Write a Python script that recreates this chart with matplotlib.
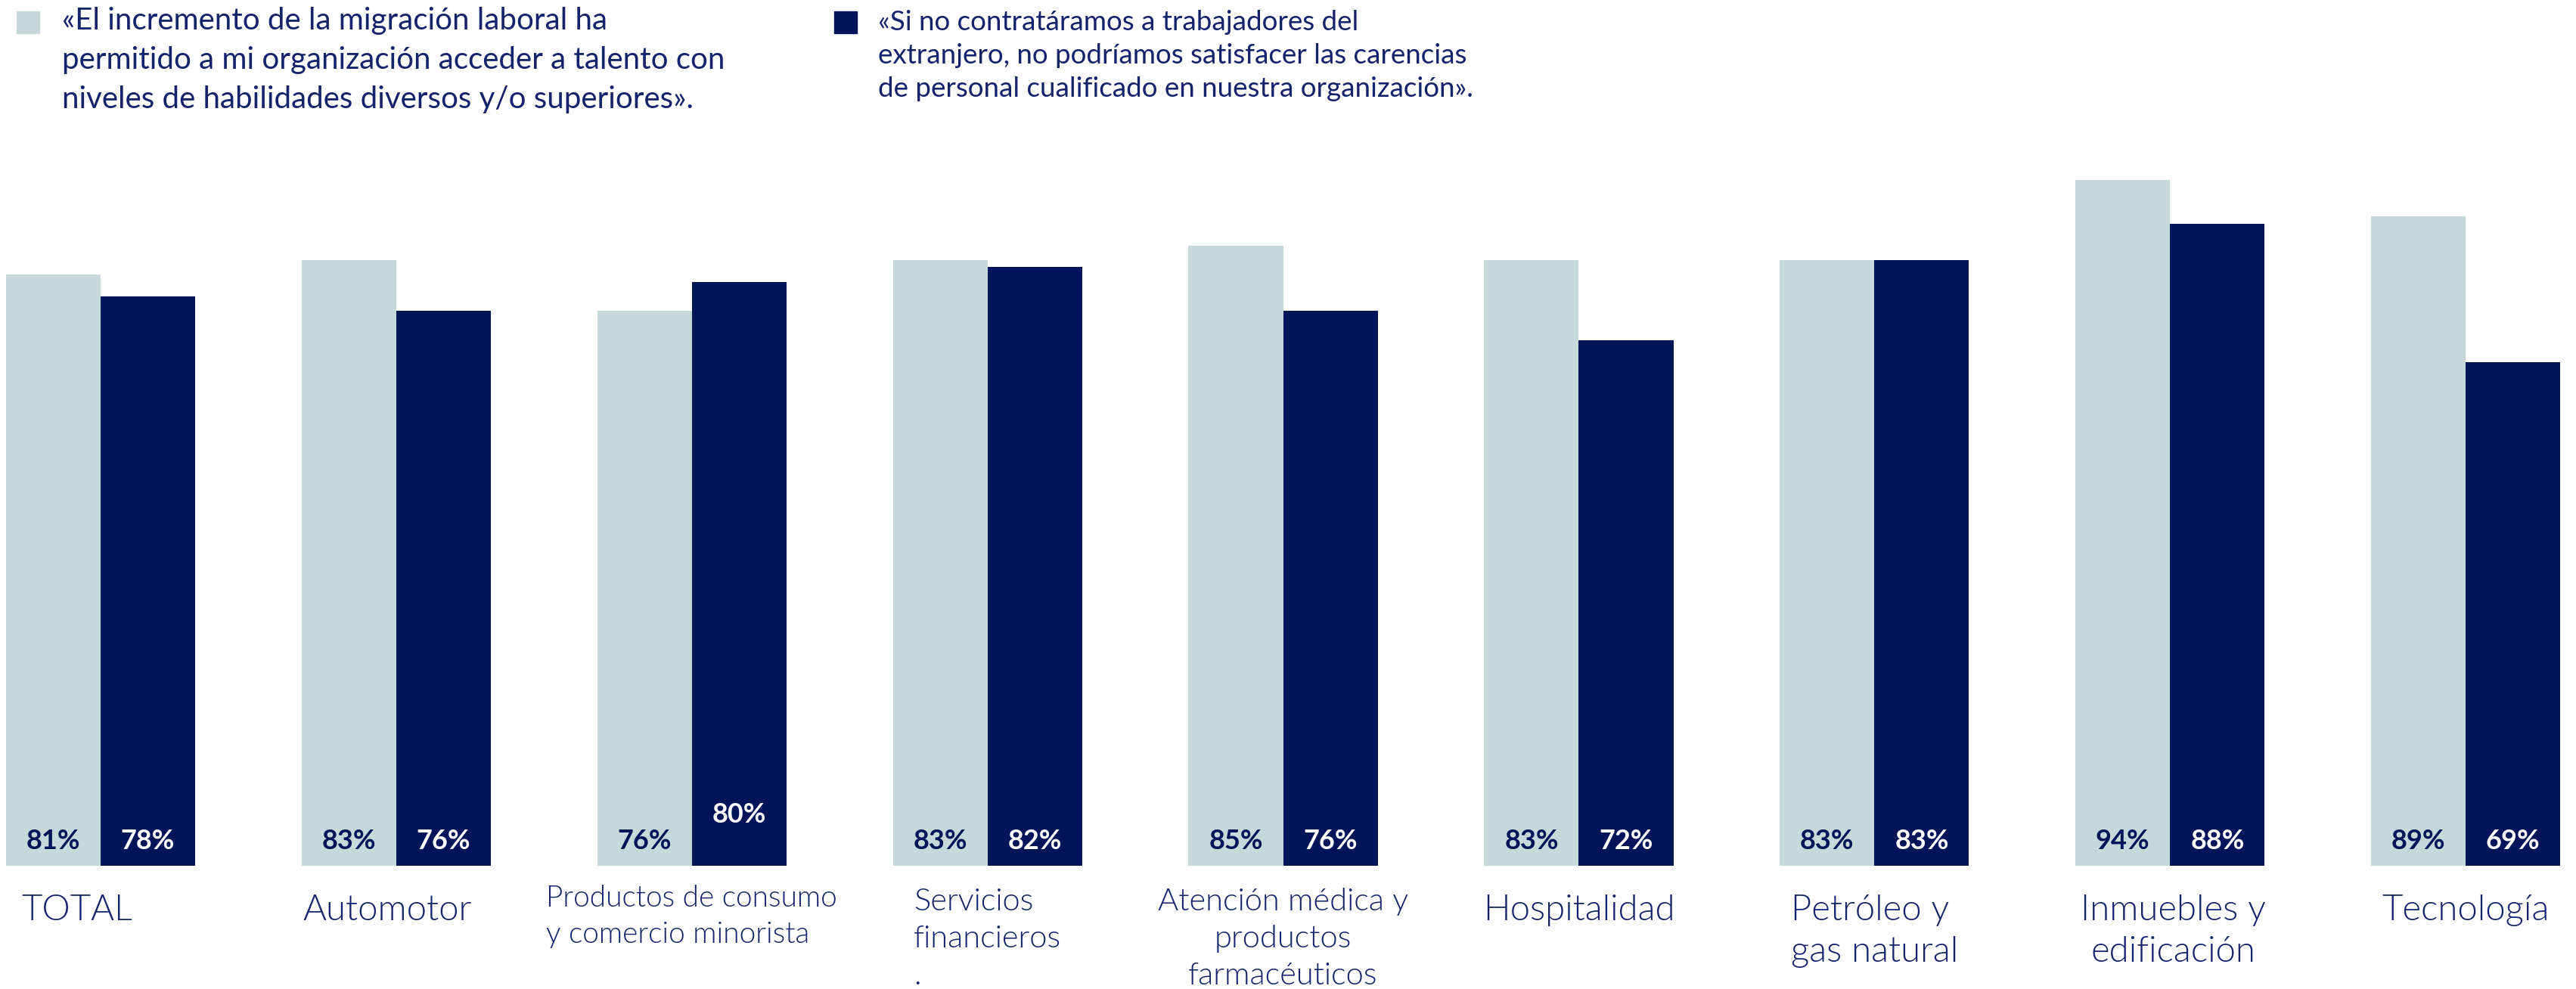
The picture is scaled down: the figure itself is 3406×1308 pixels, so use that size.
import matplotlib.pyplot as plt
from matplotlib.patches import Rectangle
import numpy as np

plt.rcParams['font.family'] = ['Lato', 'DejaVu Sans']

categories = ["TOTAL", "Automotor", "Productos de consumo\ny comercio minorista",
              "Servicios\nfinancieros\n.", "Atención médica y\nproductos\nfarmacéuticos",
              "Hospitalidad", "Petróleo y\ngas natural", "Inmuebles y\nedificación",
              "Tecnología"]
acceso_talento = [81, 83, 76, 83, 85, 83, 83, 94, 89]
sin_extranjeros = [78, 76, 80, 82, 76, 72, 83, 88, 69]

# per-label text settings
label_align = ["left", "left", "left", "left", "center", "left", "left", "center", "left"]
label_size = [34, 34, 28, 30, 30, 34, 34, 34, 34]
label_shift = [-0.08, -0.03, 0, 0, 0, 0, 0, 0.01, 0]
dark_label_y = [3.4, 3.4, 7.0, 3.4, 3.4, 3.4, 3.4, 3.4, 3.4]

legend_1 = ("«El incremento de la migración laboral ha\n"
            "permitido a mi organización acceder a talento con\n"
            "niveles de habilidades diversos y/o superiores».")
legend_2 = ("«Si no contratáramos a trabajadores del\n"
            "extranjero, no podríamos satisfacer las carencias\n"
            "de personal cualificado en nuestra organización».")

light = "#c5d9db"
dark = "#00145a"
navy_text = "#13236c"

fig = plt.figure(figsize=(34.06, 13.08), dpi=100)
ax = fig.add_axes([0, 0.1246, 1, 0.738])

x = np.arange(len(categories))
w = 0.32
b1 = ax.bar(x - w / 2, acceso_talento, w, color=light)
b2 = ax.bar(x + w / 2, sin_extranjeros, w, color=dark)

ax.set_xlim(-0.340, 8.373)
ax.set_ylim(0, 100)
ax.axis('off')

# percentages sit near the base of each bar
for rect, v in zip(b1, acceso_talento):
    ax.text(rect.get_x() + rect.get_width() / 2, 3.4, f"{v}%", ha='center', va='center',
            fontsize=26, fontweight='bold', color=dark)
for rect, v, yy in zip(b2, sin_extranjeros, dark_label_y):
    ax.text(rect.get_x() + rect.get_width() / 2, yy, f"{v}%", ha='center', va='center',
            fontsize=26, fontweight='bold', color='white')

for i, lab in enumerate(categories):
    y_top = -2.6 - (label_size[i] - 28) * 0.22
    ax.text(i + label_shift[i], y_top, lab, ha='center', va='top',
            multialignment=label_align[i], fontsize=label_size[i],
            fontweight=300, color=navy_text, linespacing=1.4, clip_on=False)

# legend squares and texts at the top
fig.add_artist(Rectangle((0.0065, 0.9664), 0.0088, 0.0222, color=light,
                         transform=fig.transFigure))
fig.text(0.024, 0.993, legend_1, ha='left', va='top', fontsize=29,
         color=navy_text, linespacing=1.5)
fig.add_artist(Rectangle((0.3239, 0.9664), 0.0088, 0.0222, color=dark,
                         transform=fig.transFigure))
fig.text(0.341, 0.990, legend_2, ha='left', va='top', fontsize=26.5,
         color=navy_text, linespacing=1.4)

fig.savefig("out.png", dpi=100)
